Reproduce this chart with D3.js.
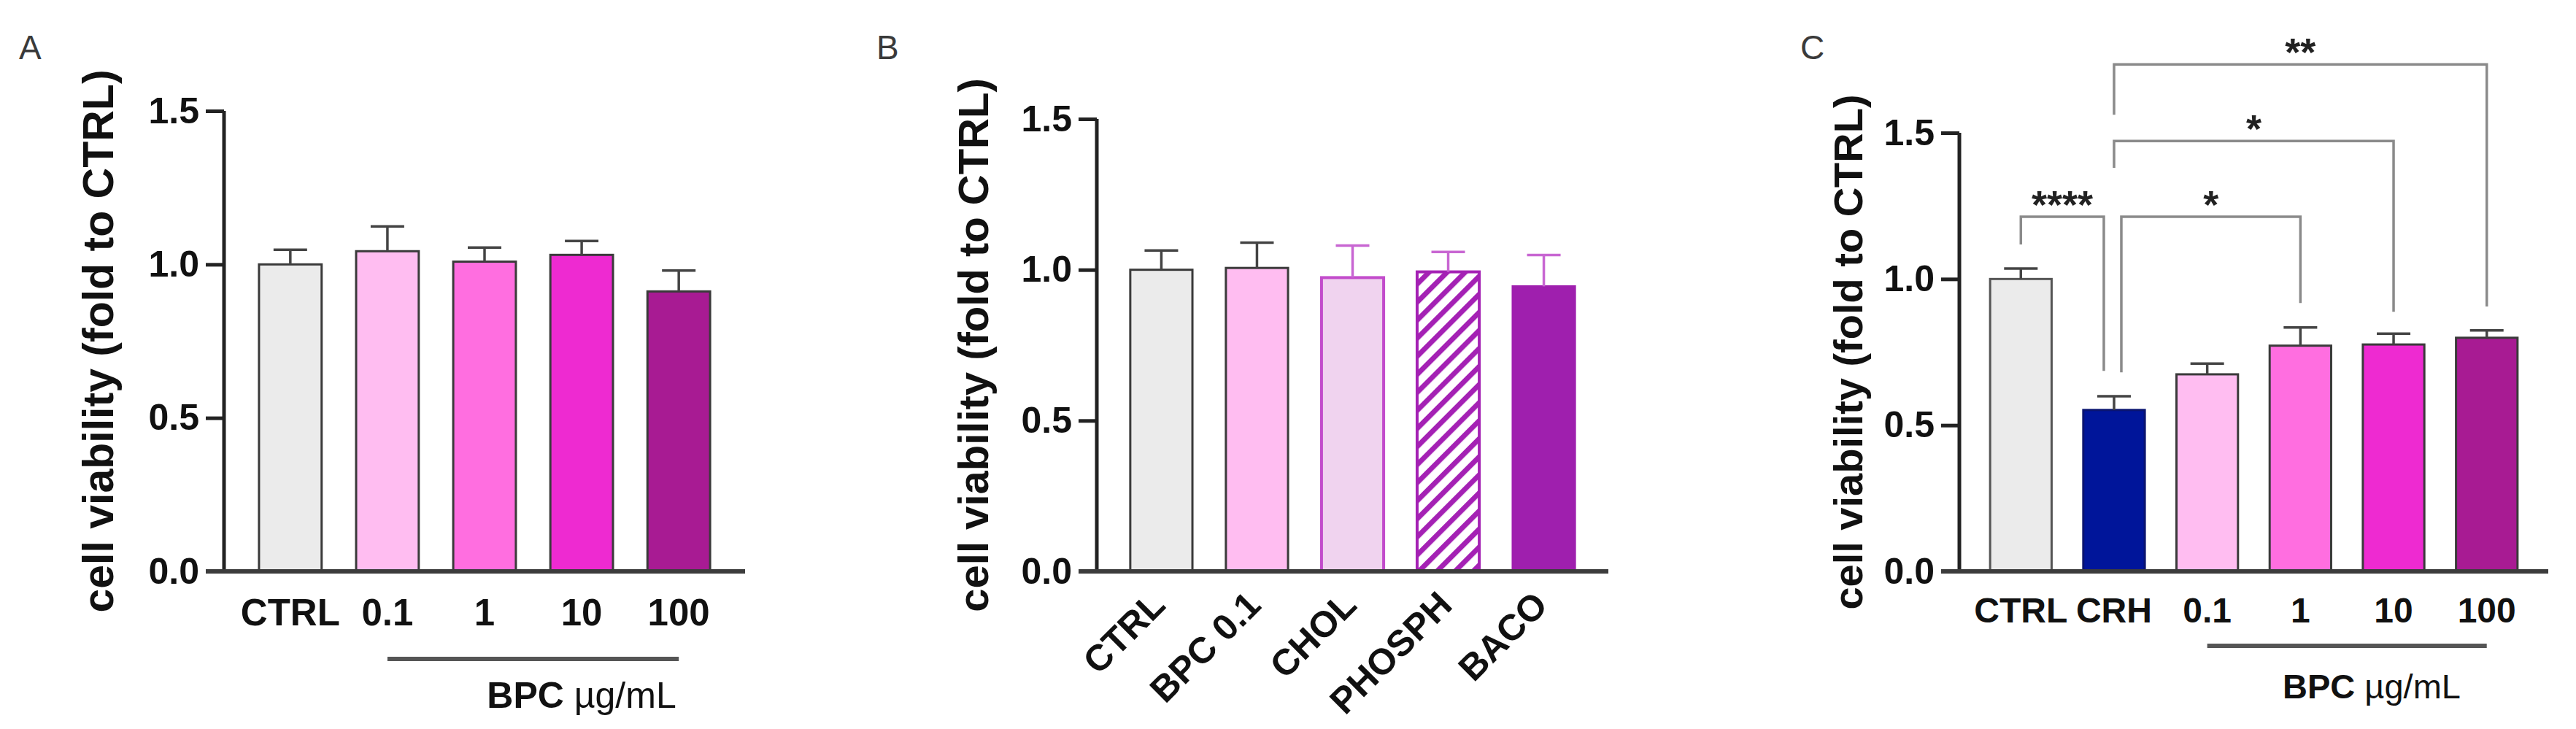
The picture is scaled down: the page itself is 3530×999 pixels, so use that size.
<!DOCTYPE html>
<html lang="en">
<head>
    <meta charset="utf-8">
    <title>Cell viability</title>
    <script src="https://d3js.org/d3.v7.min.js"></script>
    <style>
        body { margin: 0; background: #fff; }
        text { font-family: "Liberation Sans", Arial, Helvetica, sans-serif; }
    </style>
</head>
<body>
<script>
// ---- data ----
var labelsA = ["CTRL", "0.1", "1", "10", "100"];
var meansA  = [1.00, 1.043, 1.009, 1.031, 0.912];
var errsA   = [0.048, 0.081, 0.046, 0.045, 0.068];

var labelsB = ["CTRL", "BPC 0.1", "CHOL", "PHOSPH", "BACO"];
var meansB  = [1.00, 1.006, 0.974, 0.993, 0.945];
var errsB   = [0.064, 0.084, 0.106, 0.066, 0.104];

var labelsC = ["CTRL", "CRH", "0.1", "1", "10", "100"];
var meansC  = [1.00, 0.552, 0.674, 0.772, 0.776, 0.799];
var errsC   = [0.036, 0.047, 0.037, 0.062, 0.037, 0.025];

var yTicks = [0, 0.5, 1.0, 1.5];

// significance brackets in panel C
var bracketFrom  = ["CTRL", "CRH", "CRH", "CRH"];
var bracketTo    = ["CRH", "1", "10", "100"];
var bracketTop   = [1.213, 1.213, 1.472, 1.734];
var bracketLegL  = [1.118, 0.681, 1.380, 1.562];
var bracketLegR  = [0.686, 0.918, 0.888, 0.906];
var bracketStars = ["****", "*", "*", "**"];

// ---- colours ----
var bpcFills = ["#ebebeb", "#ffbdf1", "#ff6ee0", "#ee2ad1", "#a81b93"];
var dark = "#3a3a3a";
var purple = "#a421b4";

var width = 3530, height = 999;

var svg = d3.select("body")
    .append("svg")
    .attr("width", width)
    .attr("height", height);

// hatch for PHOSPH
var defs = svg.append("defs");
var hatch = defs.append("pattern")
    .attr("id", "hatch")
    .attr("patternUnits", "userSpaceOnUse")
    .attr("width", 17.5)
    .attr("height", 17.5)
    .attr("patternTransform", "rotate(45)");
hatch.append("rect").attr("width", 17.5).attr("height", 17.5).attr("fill", "#fff");
hatch.append("rect").attr("width", 7).attr("height", 17.5).attr("fill", purple);

// draws axes, bars and error bars of one panel; returns the scales
function drawPanel(p) {
    var g = svg.append("g");

    var x = d3.scaleBand()
        .domain(p.labels)
        .range([p.axisX, p.right])
        .paddingInner(p.padIn)
        .paddingOuter(p.padOut);

    var y = d3.scaleLinear()
        .domain([0, 1.5])
        .range([p.base, p.top]);

    // bars
    g.selectAll("rect.bar")
        .data(p.means)
        .enter()
        .append("rect")
        .attr("class", "bar")
        .attr("x", function(d, i) { return x(p.labels[i]); })
        .attr("y", function(d) { return y(d); })
        .attr("width", x.bandwidth())
        .attr("height", function(d) { return y(0) - y(d); })
        .attr("fill", function(d, i) { return p.fills[i]; })
        .attr("stroke", function(d, i) { return p.strokes[i]; })
        .attr("stroke-width", function(d, i) { return p.strokeW[i]; });

    // error bars (upper only)
    var eb = g.selectAll("g.err")
        .data(p.means)
        .enter()
        .append("g")
        .attr("class", "err")
        .attr("stroke", function(d, i) { return p.errColors[i]; })
        .attr("stroke-width", 3.5);
    eb.append("line")
        .attr("x1", function(d, i) { return x(p.labels[i]) + x.bandwidth() / 2; })
        .attr("x2", function(d, i) { return x(p.labels[i]) + x.bandwidth() / 2; })
        .attr("y1", function(d) { return y(d); })
        .attr("y2", function(d, i) { return y(d + p.errs[i]); });
    eb.append("line")
        .attr("x1", function(d, i) { return x(p.labels[i]) + x.bandwidth() / 2 - 23; })
        .attr("x2", function(d, i) { return x(p.labels[i]) + x.bandwidth() / 2 + 23; })
        .attr("y1", function(d, i) { return y(d + p.errs[i]); })
        .attr("y2", function(d, i) { return y(d + p.errs[i]); });

    // y axis
    var yAxis = d3.axisLeft(y)
        .tickValues(yTicks)
        .tickFormat(d3.format(".1f"))
        .tickSize(25)
        .tickPadding(9);
    var ya = g.append("g")
        .attr("transform", "translate(" + p.axisX + ",0)")
        .call(yAxis);
    ya.select(".domain")
        .attr("d", "M0," + y(1.5) + "V" + y(0))
        .attr("stroke", "#222")
        .attr("stroke-width", 5);
    ya.selectAll(".tick line").attr("stroke", "#222").attr("stroke-width", 5);
    ya.selectAll(".tick text")
        .attr("font-size", 50)
        .attr("font-weight", "bold")
        .attr("fill", "#111")
        .attr("font-family", "Liberation Sans, Arial, sans-serif");

    // x axis baseline
    g.append("line")
        .attr("x1", p.axisX - 25)
        .attr("x2", p.right)
        .attr("y1", y(0))
        .attr("y2", y(0))
        .attr("stroke", "#3c3c3c")
        .attr("stroke-width", 6);

    // y title
    g.append("text")
        .attr("transform", "translate(" + (p.axisX - p.titleOff) + "," + y(0.75) + ") rotate(-90)")
        .attr("text-anchor", "middle")
        .attr("font-size", p.titleSize)
        .attr("font-weight", "bold")
        .attr("fill", "#111")
        .text("cell viability (fold to CTRL)");

    // panel letter
    g.append("text")
        .attr("x", p.letterX)
        .attr("y", 81)
        .attr("font-size", 46)
        .attr("fill", "#3a3a3a")
        .text(p.letter);

    return { x: x, y: y, g: g };
}

// category labels under the bars
function flatLabels(s, labels, size, base) {
    s.g.selectAll("text.xl")
        .data(labels)
        .enter()
        .append("text")
        .attr("class", "xl")
        .attr("x", function(d) { return s.x(d) + s.x.bandwidth() / 2; })
        .attr("y", base)
        .attr("text-anchor", "middle")
        .attr("font-size", size)
        .attr("font-weight", "bold")
        .attr("fill", "#111")
        .text(function(d) { return d; });
}

// "BPC µg/mL" group line
function bpcGroup(s, lineY, textX, textY, size) {
    var x0 = s.x("0.1") + s.x.bandwidth() / 2;
    var x1 = s.x("100") + s.x.bandwidth() / 2;
    s.g.append("line")
        .attr("x1", x0).attr("x2", x1)
        .attr("y1", lineY).attr("y2", lineY)
        .attr("stroke", "#555")
        .attr("stroke-width", 6);
    var t = s.g.append("text")
        .attr("x", textX)
        .attr("y", textY)
        .attr("text-anchor", "middle")
        .attr("font-size", size)
        .attr("fill", "#111");
    t.append("tspan").attr("font-weight", "bold").text("BPC");
    t.append("tspan").text(" \u00b5g/mL");
}

// ---- Panel A ----
var A = drawPanel({
    letter: "A", letterX: 26,
    labels: labelsA, means: meansA, errs: errsA,
    axisX: 307, right: 1021, top: 152, base: 783,
    padIn: 0.355, padOut: 0.36,
    fills: bpcFills,
    strokes: [dark, dark, dark, dark, dark],
    strokeW: [3, 3, 3, 3, 3],
    errColors: ["#444", "#444", "#444", "#444", "#444"],
    titleOff: 152, titleSize: 59
});
flatLabels(A, labelsA, 51, 857);
bpcGroup(A, 903, 797, 970, 50);

// ---- Panel B ----
var B = drawPanel({
    letter: "B", letterX: 1201,
    labels: labelsB, means: meansB, errs: errsB,
    axisX: 1503, right: 2204, top: 163, base: 783,
    padIn: 0.35, padOut: 0.35,
    fills: ["#ebebeb", "#ffbdf1", "#f0d3ef", "url(#hatch)", "#9f1fae"],
    strokes: [dark, dark, "#c24ccb", purple, "#9f1fae"],
    strokeW: [3, 3, 4, 4, 3],
    errColors: ["#444", "#444", "#c866d2", "#c866d2", "#c866d2"],
    titleOff: 149, titleSize: 58
});
B.g.selectAll("text.xl")
    .data(labelsB)
    .enter()
    .append("text")
    .attr("class", "xl")
    .attr("transform", function(d) {
        return "translate(" + (B.x(d) + B.x.bandwidth() / 2 + 8) + ",832) rotate(-45)";
    })
    .attr("text-anchor", "end")
    .attr("font-size", 50)
    .attr("font-weight", "bold")
    .attr("fill", "#111")
    .text(function(d) { return d; });

// ---- Panel C ----
var C = drawPanel({
    letter: "C", letterX: 2467,
    labels: labelsC, means: meansC, errs: errsC,
    axisX: 2685, right: 3492, top: 182, base: 783,
    padIn: 0.34, padOut: 0.33,
    fills: ["#ebebeb", "#00159a"].concat(bpcFills.slice(1)),
    strokes: ["#555", "#0a1470", dark, dark, dark, dark],
    strokeW: [3, 3, 3, 3, 3, 3],
    errColors: ["#444", "#444", "#444", "#444", "#444", "#444"],
    titleOff: 133, titleSize: 56
});
flatLabels(C, labelsC, 48, 853);
bpcGroup(C, 885, 3250, 957, 47);

// brackets
var nudgeL = [0, 10, 0, 0];
var nudgeR = [-14, 0, 0, 0];
var cx = function(k) { return C.x(k) + C.x.bandwidth() / 2; };
bracketFrom.forEach(function(f, i) {
    var xl = cx(f) + nudgeL[i];
    var xr = cx(bracketTo[i]) + nudgeR[i];
    var yt = C.y(bracketTop[i]);
    C.g.append("path")
        .attr("d", "M" + xl + "," + C.y(bracketLegL[i]) + "V" + yt + "H" + xr + "V" + C.y(bracketLegR[i]))
        .attr("fill", "none")
        .attr("stroke", "#8a8a8a")
        .attr("stroke-width", 3.5);
    C.g.append("text")
        .attr("x", (xl + xr) / 2)
        .attr("y", yt + 2)
        .attr("text-anchor", "middle")
        .attr("font-size", 54)
        .attr("font-weight", "bold")
        .attr("fill", "#222")
        .text(bracketStars[i]);
});
</script>
</body>
</html>
